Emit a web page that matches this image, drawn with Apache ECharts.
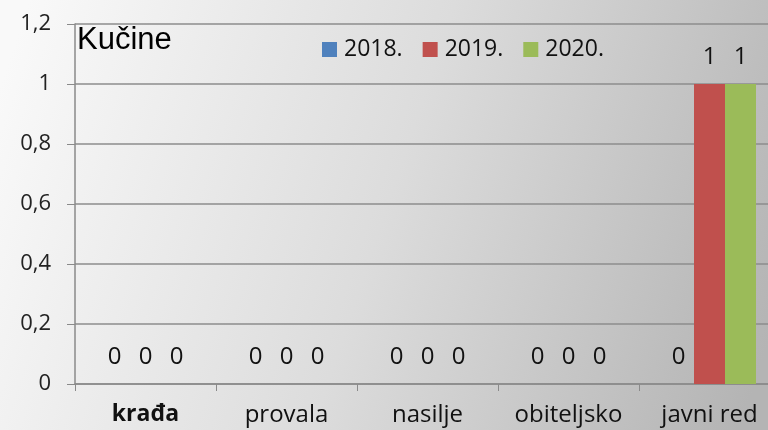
<!DOCTYPE html>
<html><head><meta charset="utf-8">
<script src="https://cdn.jsdelivr.net/npm/echarts@6/dist/echarts.min.js"></script>
<style>html,body{margin:0;padding:0;background:#fff}#c{width:768px;height:430px}</style>
</head><body><div id="c"></div>
<script>
const categories = ['krađa', 'provala', 'nasilje', 'obiteljsko', 'javni red'];
const seriesNames = ['2018.', '2019.', '2020.'];
const values2018 = [0, 0, 0, 0, 0];
const values2019 = [0, 0, 0, 0, 1];
const values2020 = [0, 0, 0, 0, 1];
const colors = ['#4F81BD', '#C0504D', '#9BBB59'];
const allValues = [values2018, values2019, values2020];

const chart = echarts.init(document.getElementById('c'), null, {renderer: 'canvas'});
const font = 'Open Sans';
chart.setOption({
  backgroundColor: new echarts.graphic.LinearGradient(0, 0.2, 1, 0.8, [
    {offset: 0, color: '#f9f9f9'},
    {offset: 0.5, color: '#dcdcdc'},
    {offset: 1, color: '#b4b4b4'}
  ]),
  animation: false,
  title: {
    text: 'Kučine', left: 77, top: 25, padding: 0,
    textStyle: {fontFamily: 'Liberation Sans', fontSize: 31, fontWeight: 'normal', color: '#000'}
  },
  legend: {
    data: seriesNames, left: 322, top: 38, padding: 0, itemWidth: 15, itemHeight: 15, itemGap: 20,
    icon: 'rect',
    textStyle: {fontFamily: font, fontSize: 23, color: '#111', padding: [0, 0, 0, 2]}
  },
  grid: {left: 75, width: 705, top: 24, bottom: 46, outerBoundsMode: 'none', containLabel: false},
  xAxis: {
    type: 'category', data: categories,
    axisLine: {lineStyle: {color: '#8a8a8a', width: 1.5}},
    axisTick: {show: true, interval: 0, length: 7, lineStyle: {color: '#8a8a8a'}},
    axisLabel: {
      interval: 0, hideOverlap: false,
      margin: 19, fontFamily: font, fontSize: 24, color: '#111',
      formatter: function (v, i) { return i === 0 ? '{b|' + v + '}' : v; },
      rich: {b: {fontFamily: font, fontSize: 23, fontWeight: 'bold', color: '#111'}}
    }
  },
  yAxis: {
    type: 'value', min: 0, max: 1.2, interval: 0.2,
    axisLine: {show: true, lineStyle: {color: '#8a8a8a', width: 1.5}},
    axisTick: {show: true, length: 8, lineStyle: {color: '#8a8a8a'}},
    splitLine: {lineStyle: {color: '#8c8c8c', width: 1.5}},
    axisLabel: {
      margin: 24, fontFamily: font, fontSize: 22, color: '#222',
      formatter: function (v) { return String(Math.round(v * 10) / 10).replace('.', ','); }
    }
  },
  series: seriesNames.map((n, i) => ({
    name: n, type: 'bar', data: allValues[i],
    barWidth: 31, barGap: '0%',
    itemStyle: {color: colors[i]},
    label: {show: true, position: 'top', distance: 15, fontFamily: font, fontSize: 24, color: '#111'}
  }))
});
</script></body></html>
